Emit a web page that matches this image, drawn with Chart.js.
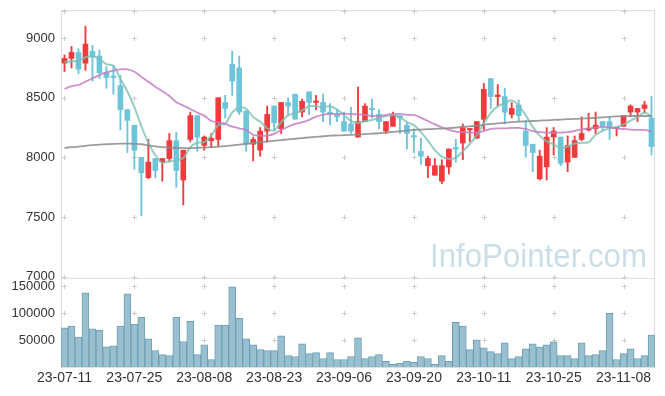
<!DOCTYPE html>
<html><head><meta charset="utf-8">
<script src="https://cdn.jsdelivr.net/npm/chart.js@4.4.0/dist/chart.umd.min.js"></script>
<style>
html,body{margin:0;padding:0;background:#fff;}
#wrap{position:relative;width:665px;height:396px;overflow:hidden;background:#fff;}
#pc{position:absolute;left:0;top:0;}
#vc{position:absolute;left:0;top:270px;}
</style></head><body>
<div id="wrap"><canvas id="pc" width="665" height="292"></canvas><canvas id="vc" width="665" height="126"></canvas></div>
<script>
const dates = ["23-07-11","23-07-12","23-07-13","23-07-14","23-07-17","23-07-18","23-07-19","23-07-20","23-07-21","23-07-24",
"23-07-25","23-07-26","23-07-27","23-07-28","23-07-31","23-08-01","23-08-02","23-08-03","23-08-04","23-08-07",
"23-08-08","23-08-09","23-08-10","23-08-11","23-08-14","23-08-16","23-08-17","23-08-18","23-08-21","23-08-22",
"23-08-23","23-08-24","23-08-25","23-08-28","23-08-29","23-08-30","23-08-31","23-09-01","23-09-04","23-09-05",
"23-09-06","23-09-07","23-09-08","23-09-11","23-09-12","23-09-13","23-09-14","23-09-15","23-09-18","23-09-19",
"23-09-20","23-09-21","23-09-22","23-09-25","23-09-26","23-09-27","23-10-04","23-10-05","23-10-06","23-10-10",
"23-10-11","23-10-12","23-10-13","23-10-16","23-10-17","23-10-18","23-10-19","23-10-20","23-10-23","23-10-24",
"23-10-25","23-10-26","23-10-27","23-10-30","23-10-31","23-11-01","23-11-02","23-11-03","23-11-06","23-11-07",
"23-11-08","23-11-09","23-11-10","23-11-13","23-11-14"];
const opens = [8790,8830,8880,8790,8890,8850,8710,8675,8600,8400,
8270,8000,7830,7990,7960,7990,8140,7810,8150,8350,
8100,8140,8150,8460,8780,8750,8390,8110,8060,8220,
8430,8240,8460,8530,8380,8550,8460,8460,8380,8360,
8300,8280,8170,8300,8410,8360,8220,8260,8350,8270,
8175,8050,7930,7850,7800,7920,8075,8120,8230,8160,
8320,8660,8510,8510,8360,8440,8220,8110,7820,7920,
8170,8170,7960,8000,8150,8230,8240,8300,8300,8240,
8260,8380,8380,8410,8330];
const highs = [8860,8930,8910,9100,8940,8900,8760,8770,8690,8400,
8270,8000,8150,7990,7990,8200,8210,8060,8380,8350,
8180,8200,8500,8520,8890,8850,8390,8170,8250,8430,
8430,8460,8500,8530,8490,8550,8520,8530,8450,8400,
8380,8420,8590,8450,8490,8400,8300,8380,8350,8290,
8240,8160,8010,7990,7980,8070,8150,8280,8240,8300,
8620,8660,8610,8580,8460,8480,8310,8110,8060,8250,
8250,8170,8180,8180,8340,8370,8380,8300,8340,8250,
8350,8440,8410,8470,8510];
const lows = [8720,8750,8700,8730,8640,8660,8580,8530,8230,8040,
7900,7510,7820,7830,7800,7960,7750,7600,8130,8050,
8060,8080,8090,8330,8520,8360,8050,7970,8010,8130,
8220,8200,8360,8320,8340,8360,8400,8300,8270,8300,
8220,8200,8170,8300,8330,8240,8200,8260,8200,8070,
8040,7940,7830,7850,7780,7860,7960,7980,8130,8160,
8230,8410,8430,8280,8330,8300,8000,7880,7810,7810,
8020,7930,7880,8000,8140,8220,8200,8230,8150,8180,
8260,8340,8300,8370,8020];
const closes = [8830,8880,8740,8950,8840,8710,8670,8670,8400,8310,
8060,7870,7960,7890,7990,8140,7890,8060,8350,8170,
8170,8160,8500,8410,8640,8380,8110,8150,8220,8360,
8290,8460,8430,8320,8470,8460,8470,8380,8360,8340,
8220,8220,8300,8430,8400,8300,8300,8350,8330,8200,
8170,8010,7990,7930,7930,8070,8070,8250,8240,8300,
8570,8510,8520,8380,8410,8350,8100,8040,8010,8170,
8220,7950,8100,8140,8200,8240,8270,8260,8250,8250,
8350,8430,8410,8440,8090];
const ma5 = [8800,8805,8810,8840,8848,8824,8782,8768,8658,8552,
8422,8262,8120,8018,7954,7970,7974,7994,8086,8122,
8128,8182,8270,8282,8376,8418,8408,8338,8300,8244,
8226,8296,8352,8372,8394,8428,8430,8420,8428,8402,
8354,8304,8288,8302,8314,8330,8346,8356,8336,8296,
8270,8212,8140,8060,8006,7986,7998,8050,8112,8186,
8286,8374,8428,8456,8478,8434,8352,8256,8182,8134,
8108,8078,8090,8116,8122,8126,8190,8222,8244,8254,
8276,8308,8338,8376,8344];
const ma20 = [8573,8598,8607,8635,8662,8690,8713,8727,8738,8738,
8718,8676,8635,8593,8556,8515,8462,8434,8406,8375,
8350,8305,8294,8280,8257,8243,8230,8188,8182,8182,
8197,8230,8257,8280,8294,8314,8342,8356,8364,8364,
8367,8364,8361,8356,8347,8347,8356,8364,8364,8356,
8356,8333,8305,8277,8252,8230,8216,8211,8208,8208,
8221,8238,8243,8243,8247,8247,8238,8221,8211,8208,
8208,8208,8211,8221,8235,8243,8249,8255,8252,8243,
8238,8233,8230,8230,8216];
const ma60 = [8080,8085,8090,8097,8102,8106,8110,8113,8115,8115,
8113,8110,8100,8092,8086,8082,8080,8078,8078,8080,
8082,8085,8090,8095,8100,8107,8113,8120,8127,8133,
8139,8145,8150,8156,8162,8167,8172,8177,8182,8184,
8186,8188,8192,8195,8199,8202,8208,8213,8219,8225,
8230,8233,8236,8239,8242,8245,8250,8255,8260,8266,
8272,8280,8285,8290,8295,8299,8302,8305,8308,8311,
8314,8317,8320,8322,8325,8328,8332,8336,8340,8344,
8346,8347,8347,8347,8347];
const volumes = [72700,75700,55700,137600,70900,68500,37600,39400,75700,135700,
79400,92100,52100,30300,23000,21200,92100,47300,84800,23000,
41200,13900,77600,77600,148500,90300,52100,41200,32100,30300,
30300,57600,21200,19400,43000,24800,26700,15800,26700,13900,
13900,19400,53900,15800,19400,23000,10300,4800,6700,10300,
8500,19400,15800,4800,21200,10300,83000,75700,32100,50300,
35700,28500,24800,44800,15800,19400,33900,43000,37600,41200,
46700,21200,21200,15800,44800,21200,23000,30300,99400,13900,
24800,33900,15800,21200,59400];
const priceTicks = [7000,7500,8000,8500,9000];
const volumeTicks = [50000,100000,150000];

const UP = '#ef3b3b', DOWN = '#6ec4d9';
const candleColors = opens.map((o,i)=> closes[i] >= o ? UP : DOWN);
Chart.defaults.font.family = '"Liberation Sans", Arial, sans-serif';
Chart.defaults.color = '#333';

const panelPlugin = {
  id: 'panel',
  beforeDatasetsDraw(chart, args, opts) {
    const {ctx, chartArea: a, scales} = chart;
    ctx.save();
    if (opts.watermark) {
      const t = 'InfoPointer.com';
      ctx.font = '33px "Liberation Sans", Arial, sans-serif';
      const w = ctx.measureText(t).width;
      ctx.translate(430, 266.5);
      ctx.scale(217 / w, 1);
      ctx.fillStyle = 'rgb(203,222,232)';
      ctx.textBaseline = 'alphabetic';
      ctx.fillText(t, 0, 0);
      ctx.setTransform(1,0,0,1,0,0);
    }
    ctx.strokeStyle = '#dedede';
    ctx.lineWidth = 1;
    ctx.strokeRect(a.left + 0.5, a.top + 0.5, a.right - a.left - 1, a.bottom - a.top);
    const xs = scales.x, ys = scales.y;
    ctx.strokeStyle = '#cccccc';
    const vals = opts.yVals.slice();
    if (opts.top) vals.push(ys.max);
    for (let i = 0; i < dates.length; i += 10) {
      const px = Math.round(xs.getPixelForValue(i)) + 0.5;
      for (const v of vals) {
        let py = Math.round(ys.getPixelForValue(v)) + 0.5;
        if (v === ys.max) py += 1;
        ctx.beginPath();
        ctx.moveTo(px - 2.5, py); ctx.lineTo(px + 2.5, py);
        ctx.moveTo(px, py - 2.5); ctx.lineTo(px, py + 2.5);
        ctx.stroke();
      }
    }
    ctx.restore();
  }
};

const fitY = s => { s.width = 61; s.paddingTop = 0; s.paddingBottom = 0; };
const lineDs = (data, color, w) => ({type:'line', data, borderColor: color, borderWidth: w, pointRadius: 0, tension: 0.3, fill: false, order: 0});

new Chart(document.getElementById('pc'), {
  type: 'bar',
  data: {
    labels: dates,
    datasets: [
      lineDs(ma60, 'rgba(140,140,140,0.85)', 1.8),
      lineDs(ma20, 'rgba(195,125,195,0.85)', 1.8),
      lineDs(ma5, 'rgba(125,192,180,0.8)', 2),
      {type:'bar', data: opens.map((o,i)=>[o, closes[i]]), backgroundColor: candleColors, barThickness: 5, grouped: false, minBarLength: 1.5, order: 1},
      {type:'bar', data: lows.map((l,i)=>[l, highs[i]]), backgroundColor: candleColors, barThickness: 1.2, grouped: false, order: 2}
    ]
  },
  options: {
    responsive: false, animation: false,
    layout: {padding: {top: 10, right: 10, bottom: 14, left: 0}},
    plugins: {legend: {display: false}, tooltip: {enabled: false}, panel: {yVals: priceTicks, top: true, watermark: true}},
    scales: {
      x: {type: 'category', display: false, offset: true, grid: {display: false}},
      y: {min: 6988, max: 9236,
          afterFit: fitY,
          afterBuildTicks: s => { s.ticks = priceTicks.map(v => ({value: v})); },
          grid: {display: false, drawTicks: false}, border: {display: false},
          ticks: {font: {size: 13}, color: '#333', padding: 6, callback: v => String(v)}}
    }
  },
  plugins: [panelPlugin]
});

new Chart(document.getElementById('vc'), {
  type: 'bar',
  data: {
    labels: dates,
    datasets: [{data: volumes, backgroundColor: '#9ac0cf', borderColor: '#6d9fb7', borderWidth: 1, barPercentage: 1, categoryPercentage: 1}]
  },
  options: {
    responsive: false, animation: false,
    layout: {padding: {top: 8, right: 10, bottom: 0, left: 0}},
    plugins: {legend: {display: false}, tooltip: {enabled: false}, panel: {yVals: volumeTicks, top: false, watermark: false}},
    scales: {
      x: {type: 'category', offset: true,
          afterFit: s => { s.height = 29; },
          grid: {display: false, drawTicks: false}, border: {display: false},
          ticks: {autoSkip: false, maxRotation: 0, minRotation: 0, padding: 3, font: {size: 14}, color: '#333',
                  callback: (v, i) => (i % 10 === 0 ? dates[i] : '')}},
      y: {min: 0, max: 165000,
          afterFit: fitY,
          afterBuildTicks: s => { s.ticks = volumeTicks.map(v => ({value: v})); },
          grid: {display: false, drawTicks: false}, border: {display: false},
          ticks: {font: {size: 13}, color: '#333', padding: 6, callback: v => String(v)}}
    }
  },
  plugins: [panelPlugin]
});
</script>
</body></html>
